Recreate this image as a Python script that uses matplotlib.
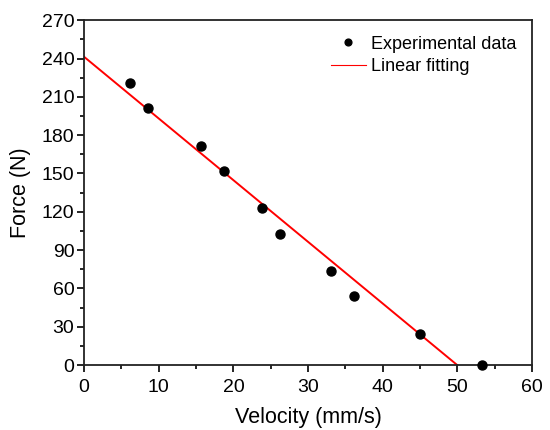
import matplotlib
matplotlib.use('Agg')
import matplotlib.pyplot as plt
import numpy as np
from matplotlib.ticker import MultipleLocator

plt.rcParams['font.family'] = ['Liberation Sans', 'DejaVu Sans']

# experimental points
velocity = [6.2, 8.6, 15.6, 18.7, 23.9, 26.3, 33.1, 36.2, 45.0, 53.3]
force = [220.5, 201.3, 171.6, 152.0, 122.6, 103.0, 73.5, 54.0, 24.5, 0.0]

# linear fit end points
fit_velocity = [0, 50]
fit_force = [241.3, 0]

fig, ax = plt.subplots(figsize=(5.5, 4.3), dpi=100)
fig.subplots_adjust(left=0.153, right=0.967, top=0.953, bottom=0.151)

ax.plot(velocity, force, 'o', color='black', markersize=6.5, label='Experimental data',
        clip_on=False, zorder=3)
ax.plot(fit_velocity, fit_force, '-', color='red', linewidth=1.4, label='Linear fitting')

ax.set_xlim(0, 60)
ax.set_ylim(0, 270)
ax.xaxis.set_major_locator(MultipleLocator(10))
ax.xaxis.set_minor_locator(MultipleLocator(5))
ax.yaxis.set_major_locator(MultipleLocator(30))
ax.yaxis.set_minor_locator(MultipleLocator(15))
ax.tick_params(which='major', direction='out', length=5, width=1.2, labelsize=14, pad=2)
ax.tick_params(axis='x', which='major', pad=5)
ax.tick_params(which='minor', direction='out', length=3, width=1.2)
for s in ax.spines.values():
    s.set_linewidth(1.3)
    s.set_color('#222222')

ax.set_xlabel('Velocity (mm/s)', fontsize=15.5, labelpad=8)
ax.set_ylabel('Force (N)', fontsize=15.5, labelpad=8)

leg = ax.legend(loc='upper right', frameon=False, fontsize=13, handlelength=1.95,
                handletextpad=0.3, labelspacing=0.3, borderaxespad=0.45,
                markerscale=0.75)
leg.legend_handles[1].set_linewidth(0.8)

fig.savefig('out.png', dpi=100)
